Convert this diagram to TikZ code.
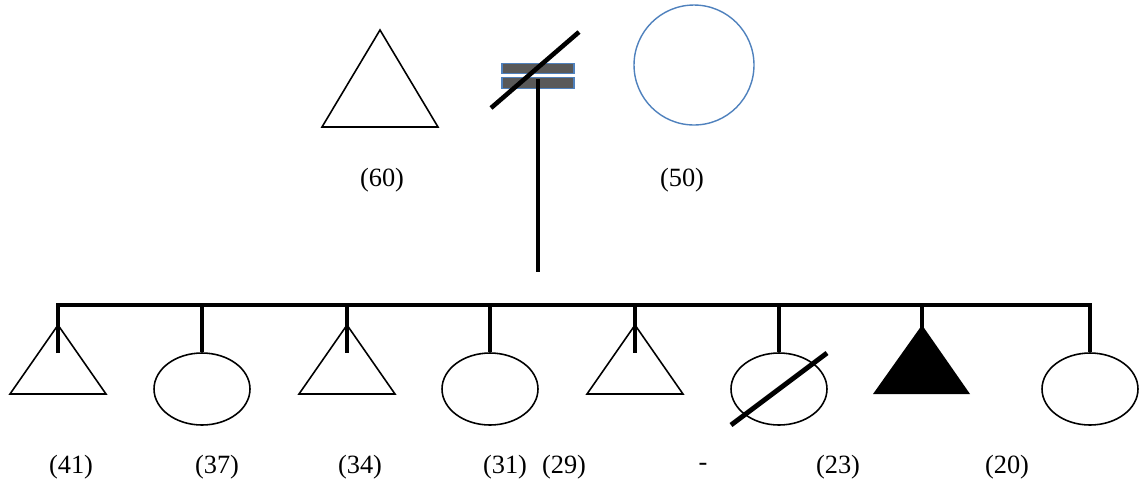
\documentclass[tikz,border=0pt]{standalone}
\usepackage{fontspec}
\setmainfont{Liberation Serif}
\usetikzlibrary{shapes.geometric,calc}
\definecolor{PedBlue}{HTML}{4F81BD}
\definecolor{PedGray}{HTML}{595959}
\begin{document}
\begin{tikzpicture}[x=0.02cm,y=-0.02cm,font=\fontsize{15}{18}\selectfont,
  kin/.style={line width=2.8pt},
  outl/.style={draw,line width=0.9pt},
  fem/.style={ellipse,outl,minimum width=1.92cm,minimum height=1.44cm,inner sep=0pt},
  bar/.style={draw=PedBlue,fill=PedGray,line width=0.6pt,minimum width=1.44cm,minimum height=0.21cm,inner sep=0pt}]
\useasboundingbox (0,0) rectangle (1139,485);
\coordinate (m60) at (380,30);
\draw[outl] (m60) -- ++(-58,97) -- ++(116,0) -- cycle;
\node[circle,draw=PedBlue,line width=0.8pt,minimum size=2.4cm,inner sep=0pt] (f50) at (694,65) {};
\node[bar] (bar1) at (538,68.5) {};
\node[bar] (bar2) at (538,83) {};
\draw[line width=2.6pt] (491,108) -- (579,32);
\coordinate (desc) at (538,272);
\draw[kin] ($(bar2.north)+(0,2)$) -- (desc);
\coordinate (sib) at (0,305);
\coordinate (c1) at (58,325);
\coordinate (c3) at (347,325);
\coordinate (c5) at (635,325);
\coordinate (c7) at (922,325);
\foreach \c in {c1,c3,c5} \draw[outl] (\c) -- ++(-48,69) -- ++(96,0) -- cycle;
\fill (c7) -- ++(-49,69) -- ++(97,0) -- cycle;
\node[fem] (c2) at (202,389) {};
\node[fem] (c4) at (490,389) {};
\node[fem] (c6) at (779,389) {};
\node[fem] (c8) at (1090,389) {};
\draw[kin] ($(c6)+(-48,36)$) -- ($(c6)+(48,-36)$);
\draw[kin] ($(c1)+(0,28)$) |- (c8.north |- sib) -- (c8.north);
\foreach \c in {c2,c4,c6} \draw[kin] (\c.north |- sib) -- (\c.north);
\foreach \c in {c3,c5,c7} \draw[kin] (\c |- sib) -- ($(\c)+(0,28)$);
\node (a60) at (382,180) {(60)};
\node (a50) at (682,180) {(50)};
\foreach \x/\t [count=\i] in {71/(41),217/(37),360/(34),505/(31),564/(29),703/-,838/(23),1007/(20)}
  \node (a\i) at (\x,467) {\t};
\end{tikzpicture}
\end{document}
